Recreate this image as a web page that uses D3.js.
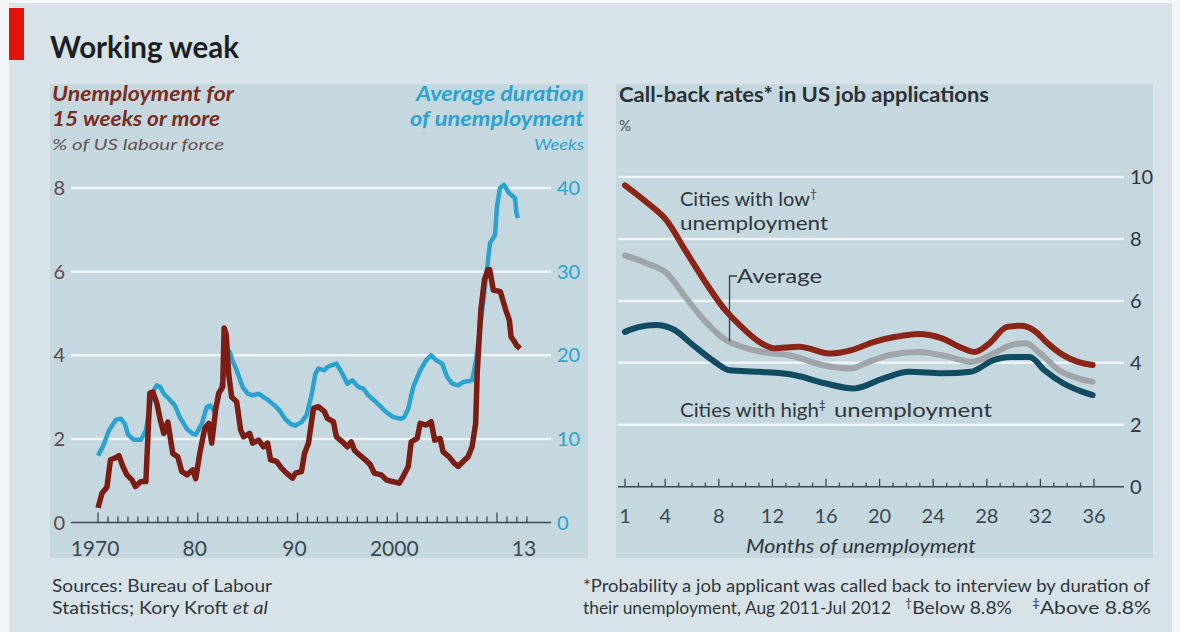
<!DOCTYPE html>
<html>
<head>
<meta charset="utf-8">
<script src="https://cdn.jsdelivr.net/npm/d3@7"></script>
<style>
  html, body { margin: 0; padding: 0; background: #f3f6f8; }
  svg { display: block; font-family: Lato, "Open Sans", sans-serif; }
</style>
</head>
<body>
<svg id="chart" width="1180" height="632"></svg>
<script>
// ---- Left panel: long-term unemployment (% of labour force) and average duration (weeks)
const unemployment15wk = [
  [1970.0,0.35],[1970.4,0.7],[1970.9,0.85],[1971.25,1.5],[1971.8,1.55],[1972.1,1.6],[1972.5,1.34],
  [1972.9,1.14],[1973.4,1.02],[1973.75,0.86],[1974.3,0.98],[1974.8,0.98],[1975.2,3.1],[1975.5,3.12],
  [1975.9,2.85],[1976.25,2.45],[1976.6,2.13],[1977.0,2.4],[1977.5,1.65],[1978.0,1.57],[1978.4,1.22],
  [1978.9,1.14],[1979.5,1.26],[1979.8,1.05],[1980.2,1.65],[1980.7,2.25],[1981.1,2.37],[1981.4,1.9],
  [1981.8,2.7],[1982.1,3.09],[1982.5,3.24],[1982.65,4.65],[1982.85,4.5],[1983.1,3.56],[1983.4,3.0],
  [1983.9,2.89],[1984.3,2.21],[1984.6,2.05],[1985.2,2.13],[1985.5,1.9],[1986.1,1.97],[1986.6,1.81],
  [1987.0,1.9],[1987.3,1.5],[1987.9,1.46],[1988.4,1.3],[1988.9,1.18],[1989.5,1.06],[1989.8,1.18],
  [1990.4,1.22],[1990.7,1.65],[1991.1,1.9],[1991.6,2.73],[1992.1,2.77],[1992.7,2.65],[1993.0,2.49],
  [1993.6,2.41],[1993.9,2.05],[1994.5,1.93],[1995.0,1.81],[1995.4,1.93],[1995.7,1.73],[1996.25,1.61],
  [1996.8,1.5],[1997.3,1.38],[1997.7,1.18],[1998.4,1.14],[1998.9,1.02],[1999.5,0.98],[2000.2,0.94],
  [2000.5,1.06],[2001.1,1.34],[2001.4,1.93],[2002.0,2.01],[2002.3,2.37],[2002.9,2.33],[2003.4,2.41],
  [2003.75,1.97],[2004.3,2.01],[2004.6,1.69],[2005.2,1.57],[2005.7,1.42],[2006.1,1.34],[2006.6,1.46],
  [2007.1,1.57],[2007.5,1.81],[2007.86,2.37],[2008.02,3.6],[2008.38,5.08],[2008.74,5.8],[2009.09,6.05],
  [2009.27,6.05],[2009.63,5.56],[2010.34,5.52],[2010.88,5.08],[2011.24,4.84],[2011.41,4.44],
  [2011.77,4.32],[2011.95,4.24],[2012.31,4.16]
];
const avgDurationWeeks = [
  [1970.0,8.0],[1970.5,9.1],[1971.1,11.0],[1971.8,12.3],[1972.3,12.4],[1972.7,11.8],[1973.0,10.5],
  [1973.6,9.9],[1974.3,9.9],[1974.8,11.0],[1975.4,15.4],[1975.9,16.4],[1976.25,16.2],[1976.6,15.4],
  [1977.1,14.8],[1977.7,14.0],[1978.2,12.6],[1978.9,11.2],[1979.5,10.6],[1979.8,10.5],[1980.4,11.8],
  [1980.9,13.8],[1981.25,14.0],[1981.6,13.4],[1982.0,14.5],[1982.5,17.0],[1983.0,20.2],[1983.2,20.4],
  [1983.5,19.3],[1983.9,18.2],[1984.5,16.2],[1985.0,15.4],[1985.5,15.2],[1986.1,15.4],[1986.6,15.0],
  [1987.1,14.6],[1987.7,14.0],[1988.2,13.4],[1988.75,12.4],[1989.3,11.8],[1989.8,11.6],[1990.4,12.0],
  [1990.9,12.8],[1991.4,15.2],[1991.8,17.8],[1992.1,18.4],[1992.7,18.2],[1993.0,18.6],[1993.4,18.8],
  [1993.9,19.0],[1994.5,17.8],[1995.0,16.6],[1995.5,17.0],[1996.1,16.2],[1996.6,16.0],[1997.1,15.2],
  [1997.7,14.6],[1998.2,14.0],[1998.9,13.2],[1999.6,12.6],[2000.4,12.4],[2000.7,12.6],[2001.1,13.6],
  [2001.6,16.2],[2002.3,18.2],[2002.9,19.4],[2003.4,20.0],[2003.9,19.4],[2004.5,19.0],[2005.0,17.4],
  [2005.5,16.6],[2006.1,16.4],[2006.6,16.8],[2007.5,17.0],[2007.9,19.4],[2008.2,22.2],[2008.6,26.2],
  [2009.1,31.4],[2009.3,33.4],[2009.8,34.4],[2010.0,37.8],[2010.3,40.0],[2010.7,40.4],[2011.2,39.4],
  [2011.8,38.8],[2011.95,37.0],[2012.1,36.4]
];
const leftPctTicks = [0, 2, 4, 6, 8];
const leftWeekTicks = [0, 10, 20, 30, 40];
const yearLabelValues = [1970, 1980, 1990, 2000, 2013];
const yearLabels = ["1970", "80", "90", "2000", "13"];

// ---- Right panel: call-back rates by months of unemployment (%)
const lowUnemploymentCities = [
  [1,9.73],[2.7,9.15],[4.1,8.6],[5.5,7.63],[6.9,6.67],[8.3,5.8],[9.7,5.16],[11,4.68],[12.1,4.47],
  [14,4.52],[16.3,4.3],[17.9,4.41],[19.6,4.68],[21.2,4.84],[22.9,4.93],[24.6,4.8],[26.2,4.47],
  [27.1,4.35],[28.2,4.63],[29.5,5.16],[30.6,5.2],[31.8,4.95],[32.3,4.73],[33.7,4.25],[34.8,4.03],[35.9,3.93]
];
const averageAllCities = [
  [1,7.47],[2.7,7.2],[4.1,6.9],[5.5,6.13],[6.9,5.38],[8.3,4.8],[9.7,4.52],[11.3,4.35],[13.5,4.22],
  [15.7,3.93],[17.9,3.82],[19,4.0],[20.7,4.25],[22.9,4.35],[25.1,4.2],[26.8,4.03],[28.5,4.3],
  [29.8,4.57],[30.9,4.63],[32,4.3],[33.4,3.76],[34.8,3.5],[35.9,3.39]
];
const highUnemploymentCities = [
  [1,5.0],[2,5.15],[3.3,5.22],[4.7,5.06],[6.0,4.6],[7.7,4.03],[8.8,3.76],[11,3.71],[13.7,3.6],
  [15.9,3.34],[18.1,3.17],[20.3,3.5],[22.2,3.71],[24.7,3.66],[26.8,3.71],[28.5,4.09],[29.8,4.19],
  [31.2,4.19],[32.3,3.76],[33.7,3.34],[35.1,3.07],[35.9,2.96]
];
const rightPctTicks = [0, 2, 4, 6, 8, 10];
const monthLabelValues = [1, 4, 8, 12, 16, 20, 24, 28, 32, 36];

// ---- Palette
const C = {
  outer: "#d7e3e9", panel: "#c5d7df", grid: "#eef4f7", axis: "#3b4852",
  red: "#7b1d12", blue: "#2aa3d1", low: "#8a2517", avg: "#9fa5a8", high: "#0f4c62",
  brown: "#5c4a45", text: "#30363b", redTitle: "#7a2c22"
};

const svg = d3.select("#chart");

svg.append("rect").attr("x", 9).attr("y", 3).attr("width", 1163).attr("height", 629).attr("fill", C.outer);
svg.append("rect").attr("x", 9).attr("y", 8).attr("width", 15).attr("height", 52).attr("fill", "#e3120b");

function label(g, x, y, str, o = {}) {
  const t = g.append("text").attr("x", x).attr("y", y)
    .attr("font-size", o.size || 19)
    .attr("font-weight", o.weight || "normal")
    .attr("font-style", o.style || "normal")
    .attr("fill", o.fill || C.text)
    .attr("text-anchor", o.anchor || "start")
    .text(str);
  if (o.len) t.attr("textLength", o.len).attr("lengthAdjust", "spacingAndGlyphs");
  return t;
}

label(svg, 50, 58, "Working weak", { size: 30, weight: "bold", fill: "#1c1f22", len: 189 });

// panel backgrounds
svg.append("rect").attr("x", 50).attr("y", 84).attr("width", 538).attr("height", 474).attr("fill", C.panel);
svg.append("rect").attr("x", 616).attr("y", 84).attr("width", 537).attr("height", 474).attr("fill", C.panel);

// ================= Left chart =================
const xL = d3.scaleLinear().domain([1970, 2010]).range([98, 497]);
const yL = d3.scaleLinear().domain([0, 8]).range([522.5, 188]);
const yW = d3.scaleLinear().domain([0, 40]).range([522.5, 188]);
const gL = svg.append("g");

label(gL, 52, 101, "Unemployment for", { size: 20, weight: "bold", style: "italic", fill: C.redTitle, len: 182 });
label(gL, 52, 126, "15 weeks or more", { size: 20, weight: "bold", style: "italic", fill: C.redTitle, len: 168 });
label(gL, 52, 150, "% of US labour force", { size: 16, style: "italic", fill: "#66524d", len: 172 });
label(gL, 584, 101, "Average duration", { size: 20, weight: "bold", style: "italic", fill: C.blue, anchor: "end", len: 168 });
label(gL, 584, 126, "of unemployment", { size: 20, weight: "bold", style: "italic", fill: C.blue, anchor: "end", len: 174 });
label(gL, 584, 150, "Weeks", { size: 16, style: "italic", fill: C.blue, anchor: "end", len: 50 });

gL.selectAll("line.grid").data(leftPctTicks.filter(d => d > 0)).join("line")
  .attr("x1", 71).attr("x2", 551).attr("y1", d => yL(d)).attr("y2", d => yL(d))
  .attr("stroke", C.grid).attr("stroke-width", 2.5);

gL.selectAll("text.yl").data(leftPctTicks).join("text")
  .attr("x", 65).attr("y", d => yL(d) + 7).attr("text-anchor", "end")
  .attr("font-size", 20).attr("fill", C.brown).text(d => d);
gL.selectAll("text.yr").data(leftWeekTicks).join("text")
  .attr("x", 557).attr("y", d => yW(d) + 7)
  .attr("font-size", 20).attr("fill", C.blue).text(d => d);

// time axis with yearly ticks
gL.append("line").attr("x1", 71).attr("x2", 551).attr("y1", yL(0)).attr("y2", yL(0))
  .attr("stroke", C.axis).attr("stroke-width", 1.5);
gL.selectAll("line.tk").data(d3.range(1970, 2014)).join("line")
  .attr("x1", d => xL(d)).attr("x2", d => xL(d))
  .attr("y1", yL(0)).attr("y2", d => yL(0) - (d % 10 === 0 ? 10 : 6))
  .attr("stroke", C.axis).attr("stroke-width", 1.3);
gL.selectAll("text.xl").data(yearLabelValues).join("text")
  .attr("x", d => xL(d) - 3).attr("y", 556).attr("text-anchor", "middle")
  .attr("font-size", 21).attr("fill", C.axis)
  .text((d, i) => yearLabels[i]);

const lineBlue = d3.line().x(d => xL(d[0])).y(d => yW(d[1]));
const lineRed = d3.line().x(d => xL(d[0])).y(d => yL(d[1]));
gL.append("path").datum(avgDurationWeeks).attr("d", lineBlue)
  .attr("fill", "none").attr("stroke", C.blue).attr("stroke-width", 4.5).attr("stroke-linejoin", "round");
gL.append("path").datum(unemployment15wk).attr("d", lineRed)
  .attr("fill", "none").attr("stroke", C.red).attr("stroke-width", 5.5).attr("stroke-linejoin", "round");

// ================= Right chart =================
const xR = d3.scaleLinear().domain([1, 36]).range([625, 1094]);
const yR = d3.scaleLinear().domain([0, 10]).range([486.7, 177]);
const gR = svg.append("g");

label(gR, 619, 102, "Call-back rates* in US job applications", { size: 20, weight: "bold", fill: "#2b3135", len: 370 });
label(gR, 619, 131, "%", { size: 15, fill: "#4a5054" });

gR.selectAll("line.grid").data(rightPctTicks.filter(d => d > 0)).join("line")
  .attr("x1", 618).attr("x2", 1124).attr("y1", d => yR(d)).attr("y2", d => yR(d))
  .attr("stroke", C.grid).attr("stroke-width", 2.5);
gR.selectAll("text.yr").data(rightPctTicks).join("text")
  .attr("x", 1130).attr("y", d => yR(d) + 7)
  .attr("font-size", 20).attr("fill", C.text).text(d => d);

gR.append("line").attr("x1", 618).attr("x2", 1124).attr("y1", yR(0)).attr("y2", yR(0))
  .attr("stroke", C.axis).attr("stroke-width", 1.5);
gR.selectAll("line.tk").data(d3.range(1, 37)).join("line")
  .attr("x1", d => xR(d)).attr("x2", d => xR(d))
  .attr("y1", yR(0)).attr("y2", d => yR(0) - (monthLabelValues.includes(d) ? 8 : 4))
  .attr("stroke", C.axis).attr("stroke-width", 1.3);
gR.selectAll("text.xl").data(monthLabelValues).join("text")
  .attr("x", d => xR(d)).attr("y", 523).attr("text-anchor", "middle")
  .attr("font-size", 20).attr("fill", C.axis).text(d => d);
label(gR, 861, 553, "Months of unemployment", { size: 19, style: "italic", fill: C.text, anchor: "middle", len: 230 });

const lineR = d3.line().x(d => xR(d[0])).y(d => yR(d[1])).curve(d3.curveMonotoneX);
[[highUnemploymentCities, C.high], [averageAllCities, C.avg], [lowUnemploymentCities, C.low]]
  .forEach(([data, col]) => {
    gR.append("path").datum(data).attr("d", lineR)
      .attr("fill", "none").attr("stroke", col).attr("stroke-width", 6)
      .attr("stroke-linecap", "round").attr("stroke-linejoin", "round");
  });

// series annotations
const lowLbl = label(gR, 680, 206, "Cities with low", { size: 20, fill: C.text });
lowLbl.append("tspan").attr("font-size", 12).attr("dy", -8).text("†");
label(gR, 680, 230, "unemployment", { size: 20, fill: C.text, len: 148 });
label(gR, 737, 283, "Average", { size: 20, fill: C.text, len: 85 });
gR.append("path")
  .attr("d", `M737,${276} H${xR(8.8)} V${yR(4.7)}`)
  .attr("fill", "none").attr("stroke", "#3a3f44").attr("stroke-width", 1.3);
const highLbl = label(gR, 680, 417, "Cities with high", { size: 20, fill: C.text, len: 146 });
highLbl.append("tspan").attr("font-size", 12).attr("dy", -8).text("‡");
label(gR, 834, 417, "unemployment", { size: 20, fill: C.text, len: 158 });

// ================= Footnotes =================
label(svg, 52, 592, "Sources: Bureau of Labour", { size: 17, fill: C.text, len: 220 });
const src2 = label(svg, 52, 614, "Statistics; Kory Kroft ", { size: 17, fill: C.text });
src2.append("tspan").attr("font-style", "italic").text("et al");
src2.attr("textLength", 216).attr("lengthAdjust", "spacingAndGlyphs");
label(svg, 583, 592, "*Probability a job applicant was called back to interview by duration of", { size: 17, fill: C.text, len: 567 });
label(svg, 583, 614, "their unemployment, Aug 2011-Jul 2012", { size: 17, fill: C.text, len: 308 });
const fnB = label(svg, 905, 614, "", { size: 17, fill: C.text });
fnB.append("tspan").attr("font-size", 11).attr("dy", -7).text("†");
fnB.append("tspan").attr("dy", 7).text("Below 8.8%");
fnB.attr("textLength", 107).attr("lengthAdjust", "spacingAndGlyphs");
const fnA = label(svg, 1032, 614, "", { size: 17, fill: C.text });
fnA.append("tspan").attr("font-size", 11).attr("dy", -7).text("‡");
fnA.append("tspan").attr("dy", 7).text("Above 8.8%");
fnA.attr("textLength", 119).attr("lengthAdjust", "spacingAndGlyphs");
</script>
</body>
</html>
